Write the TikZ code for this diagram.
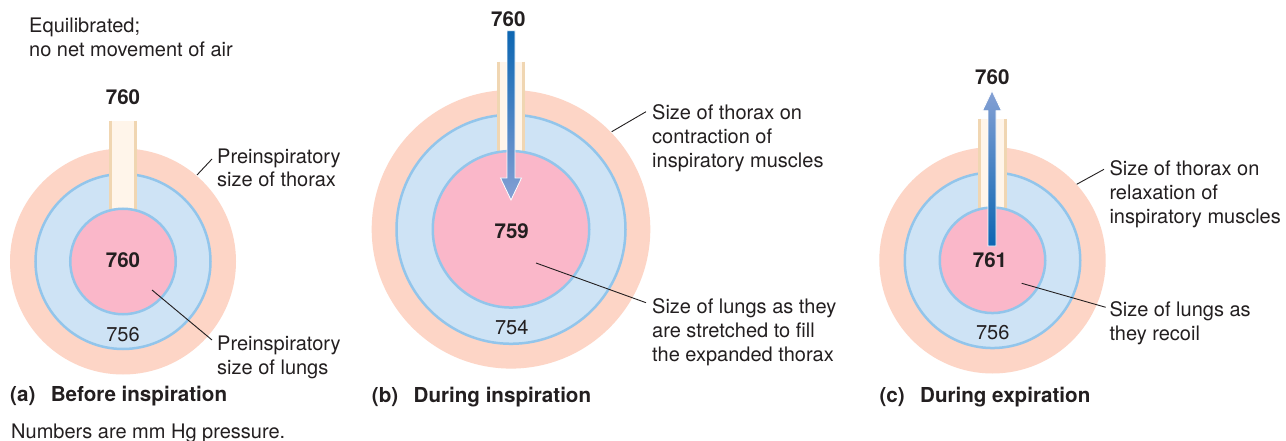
\documentclass[tikz,border=0pt]{standalone}
\usepackage{fontspec}
\setmainfont{TeX Gyre Heros}
\usetikzlibrary{calc}

\definecolor{chestpink}{RGB}{253,213,198}
\definecolor{pleurablue}{RGB}{206,227,245}
\definecolor{pleuraline}{RGB}{146,197,235}
\definecolor{lungpink}{RGB}{250,183,201}
\definecolor{tubefill}{RGB}{255,245,234}
\definecolor{tubeedge}{RGB}{240,214,178}
\definecolor{flowdark}{RGB}{12,102,178}
\definecolor{flowlight}{RGB}{132,160,212}
\definecolor{inkgray}{RGB}{35,31,32}

\begin{document}
\begin{tikzpicture}[
    x=1pt, y=-1pt,
    font=\fontsize{20}{24}\selectfont,
    chest/.style={circle, fill=chestpink, inner sep=0pt},
    pleura/.style={circle, fill=pleurablue, draw=pleuraline, line width=2.5pt, inner sep=0pt},
    lung/.style={circle, fill=lungpink, draw=pleuraline, line width=2.5pt, inner sep=0pt},
    tube/.style={rectangle, fill=tubefill, minimum width=28pt, inner sep=0pt, anchor=north},
    tubeside/.style={tubeedge, line width=3pt},
    num/.style={anchor=base, inner sep=0pt, text=inkgray},
    bignum/.style={num, font=\fontsize{20.5}{24}\selectfont\bfseries},
    % multi-line labels sit on the baseline of their last line
    label/.style={anchor=base west, align=left, inner sep=0pt, text=inkgray},
    caption/.style={label, font=\fontsize{20.6}{24}\selectfont\bfseries},
    leader/.style={inkgray, line width=0.9pt},
    flow/.style={draw=white, line width=0.8pt}
]
    % background / page size
    \fill[white] (0,0) rectangle (1286,441);
    \useasboundingbox (0,0) rectangle (1286,441);

    % =======================================================
    % (a) BEFORE INSPIRATION
    % =======================================================
    \node[label] (noteA) at (29,57) {Equilibrated;\\no net movement of air};

    \node[chest, minimum size=226pt] (chestA) at (123,261.5) {};
    \node[pleura, minimum size=175pt] (pleuraA) at (chestA.center) {};
    \node[tube, minimum height=141pt] (tubeA) at (123,120.7) {};
    \draw[tubeside] ([xshift=1.5pt]tubeA.north west) -- ([xshift=1.5pt]tubeA.south west);
    \draw[tubeside] ([xshift=-1.5pt]tubeA.north east) -- ([xshift=-1.5pt]tubeA.south east);
    \node[lung, minimum size=105.5pt] (lungA) at (chestA.center) {};

    % Pressures
    \node[bignum] (atmA) at (123,105) {760};
    \node[bignum] (alvA) at (123,267) {760};
    \node[num] (pipA) at (123,341) {756};

    % Labels
    \node[label] (labThoraxA) at (217,187) {Preinspiratory\\size of thorax};
    \node[label] (labLungA) at (217,374.7) {Preinspiratory\\size of lungs};
    \coordinate (ptThoraxA) at (197,175);
    \coordinate (ptLungA) at (152,290);
    \draw[leader] (ptThoraxA) -- ([shift={(-5,-28)}]labThoraxA.base west);
    \draw[leader] (ptLungA) -- ([shift={(-5,-34.7)}]labLungA.base west);

    \node[caption] (capA) at (10,401.7) {(a)\hspace{0.75em}Before inspiration};
    \node[label] (unitNote) at (11,438) {Numbers are mm Hg pressure.};

    % =======================================================
    % (b) DURING INSPIRATION
    % =======================================================
    \node[chest, minimum size=278.6pt] (chestB) at (511,229.3) {};
    \node[pleura, minimum size=229pt] (pleuraB) at (chestB.center) {};
    \node[tube, minimum height=168pt] (tubeB) at (510.9,61.7) {};
    \draw[tubeside] ([xshift=1.5pt]tubeB.north west) -- ([xshift=1.5pt]tubeB.south west);
    \draw[tubeside] ([xshift=-1.5pt]tubeB.north east) -- ([xshift=-1.5pt]tubeB.south east);
    \node[lung, minimum size=156.5pt] (lungB) at (chestB.center) {};

    % Inflow arrow
    \coordinate (inTailB) at (511,30.7);
    \coordinate (inTipB) at (511,200);
    \shadedraw[flow, top color=flowdark, bottom color=flowlight]
        ($(inTailB)+(-4,0)$) -- ($(inTipB)+(-4,-22)$) -- ($(inTipB)+(-10.5,-22)$) -- (inTipB)
        -- ($(inTipB)+(10.5,-22)$) -- ($(inTipB)+(4,-22)$) -- ($(inTailB)+(4,0)$) -- cycle;

    % Pressures
    \node[bignum] (atmB) at (508.3,26.7) {760};
    \node[bignum] (alvB) at (511.7,238) {759};
    \node[num] (pipB) at (511.7,334) {754};

    % Labels
    \node[label] (labThoraxB) at (652,167.3) {Size of thorax on\\contraction of\\inspiratory muscles};
    \node[label] (labLungB) at (652,361.3) {Size of lungs as they\\are stretched to fill\\the expanded thorax};
    \coordinate (ptThoraxB) at (611.7,131.7);
    \coordinate (ptLungB) at (536,263);
    \draw[leader] (ptThoraxB) -- ([shift={(-6,-55.6)}]labThoraxB.base west);
    \draw[leader] (ptLungB) -- ([shift={(-6,-58.6)}]labLungB.base west);

    \node[caption] (capB) at (371.7,402) {(b)\hspace{0.75em}During inspiration};

    % =======================================================
    % (c) DURING EXPIRATION
    % =======================================================
    \node[chest, minimum size=226.4pt] (chestC) at (992.5,260.3) {};
    \node[pleura, minimum size=175.5pt] (pleuraC) at (chestC.center) {};
    \node[tube, minimum height=141.3pt] (tubeC) at (992.5,119) {};
    \draw[tubeside] ([xshift=1.5pt]tubeC.north west) -- ([xshift=1.5pt]tubeC.south west);
    \draw[tubeside] ([xshift=-1.5pt]tubeC.north east) -- ([xshift=-1.5pt]tubeC.south east);
    \node[lung, minimum size=105.5pt] (lungC) at (chestC.center) {};

    % Outflow arrow
    \coordinate (outTailC) at (992,246);
    \coordinate (outTipC) at (992,90.7);
    \shadedraw[flow, top color=flowlight, bottom color=flowdark]
        ($(outTailC)+(-4,0)$) -- ($(outTipC)+(-4,20)$) -- ($(outTipC)+(-9.5,20)$) -- (outTipC)
        -- ($(outTipC)+(9.5,20)$) -- ($(outTipC)+(4,20)$) -- ($(outTailC)+(4,0)$) -- cycle;

    % Pressures
    \node[bignum] (atmC) at (992.3,84.3) {760};
    \node[bignum] (alvC) at (990,267) {761};
    \node[num] (pipC) at (992.7,339.3) {756};

    % Labels
    \node[label] (labThoraxC) at (1109.3,223) {Size of thorax on\\relaxation of\\inspiratory muscles};
    \node[label] (labLungC) at (1109.3,340.7) {Size of lungs as\\they recoil};
    \coordinate (ptThoraxC) at (1076.7,184.3);
    \coordinate (ptLungC) at (1021.7,283.3);
    \draw[leader] (ptThoraxC) -- ([shift={(-5.3,-53.7)}]labThoraxC.base west);
    \draw[leader] (ptLungC) -- ([shift={(-3.6,-33.4)}]labLungC.base west);

    \node[caption] (capC) at (879.3,402) {(c)\hspace{0.75em}During expiration};

\end{tikzpicture}
\end{document}
